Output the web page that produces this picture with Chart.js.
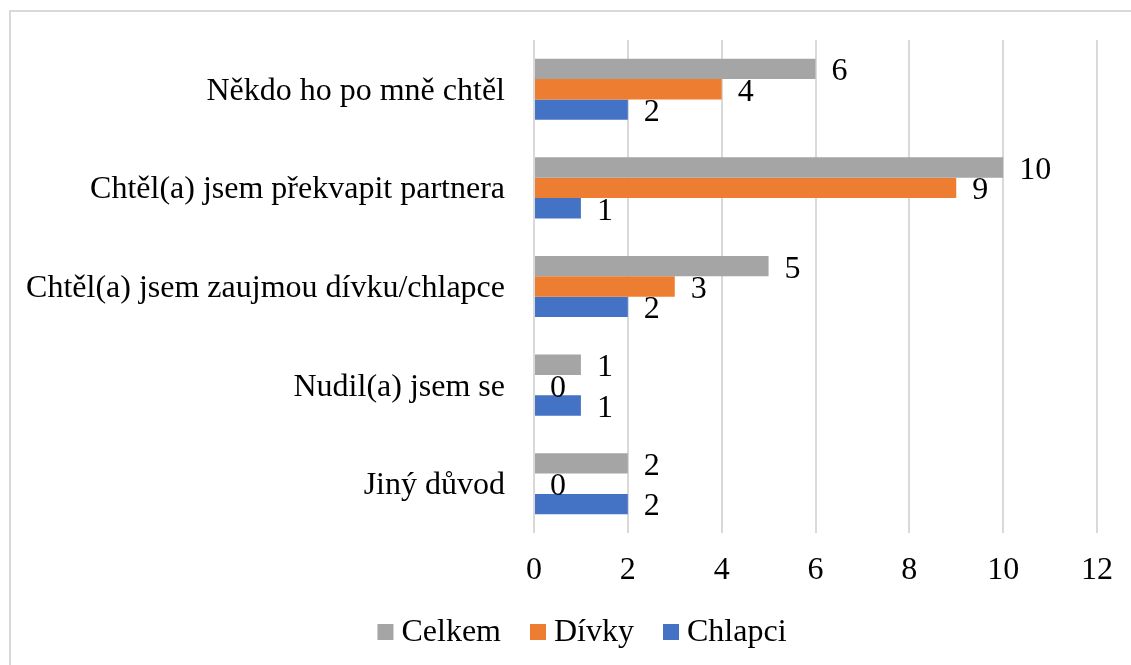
<!DOCTYPE html>
<html>
<head>
<meta charset="utf-8">
<script src="https://cdn.jsdelivr.net/npm/chart.js@4/dist/chart.umd.min.js"></script>
<style>
  html, body { margin: 0; padding: 0; background: #fff; }
  #wrap { width: 1131px; height: 665px; position: relative; }
</style>
</head>
<body>
<div id="wrap"><canvas id="c" width="1131" height="665"></canvas></div>
<script>
const categories = [
  "Někdo ho po mně chtěl",
  "Chtěl(a) jsem překvapit partnera",
  "Chtěl(a) jsem zaujmou dívku/chlapce",
  "Nudil(a) jsem se",
  "Jiný důvod"
];
const celkem = [6, 10, 5, 1, 2];
const divky = [4, 9, 3, 0, 0];
const chlapci = [2, 1, 2, 1, 2];
const seriesNames = ["Celkem", "Dívky", "Chlapci"];
const xTicks = [0, 2, 4, 6, 8, 10, 12];

const FONT = "'Liberation Serif', 'Times New Roman', serif";
const FS = 32;

const frame = {
  id: 'frame',
  beforeDraw(chart) {
    const ctx = chart.ctx;
    ctx.save();
    ctx.fillStyle = '#fff';
    ctx.fillRect(0, 0, chart.width, chart.height);
    ctx.strokeStyle = '#d9d9d9';
    ctx.lineWidth = 2;
    ctx.strokeRect(10, 11, 1140, 700);
    ctx.restore();
  }
};

// Legend drawn from the datasets (labels + colours), Office-style spacing
const customLegend = {
  id: 'customLegend',
  afterDraw(chart) {
    const ctx = chart.ctx;
    const box = 16, gapText = 8, gapItem = 29;
    const cx = 582, cy = 632;
    ctx.save();
    ctx.font = FS + 'px ' + FONT;
    const items = chart.data.datasets.map(ds => ({
      text: ds.label, color: ds.backgroundColor, w: ctx.measureText(ds.label).width
    }));
    let total = items.reduce((s, it) => s + box + gapText + it.w, 0) + gapItem * (items.length - 1);
    let x = cx - total / 2;
    ctx.textBaseline = 'middle';
    ctx.textAlign = 'left';
    items.forEach(it => {
      ctx.fillStyle = it.color;
      ctx.fillRect(x, cy - box / 2, box, box);
      ctx.fillStyle = '#000';
      ctx.fillText(it.text, x + box + gapText, cy + 1);
      x += box + gapText + it.w + gapItem;
    });
    ctx.restore();
  }
};

const valueLabels = {
  id: 'valueLabels',
  afterDatasetsDraw(chart) {
    const ctx = chart.ctx;
    ctx.save();
    ctx.font = FS + 'px ' + FONT;
    ctx.fillStyle = '#000';
    ctx.textAlign = 'left';
    ctx.textBaseline = 'middle';
    chart.data.datasets.forEach((ds, i) => {
      const meta = chart.getDatasetMeta(i);
      meta.data.forEach((bar, j) => {
        ctx.fillText(String(ds.data[j]), bar.x + 16, bar.y + 3);
      });
    });
    ctx.restore();
  }
};

new Chart(document.getElementById('c'), {
  type: 'bar',
  data: {
    labels: categories,
    datasets: [
      { label: seriesNames[0], data: celkem, backgroundColor: '#A5A5A5' },
      { label: seriesNames[1], data: divky, backgroundColor: '#ED7D31' },
      { label: seriesNames[2], data: chlapci, backgroundColor: '#4472C4' }
    ]
  },
  options: {
    indexAxis: 'y',
    responsive: false,
    animation: false,
    devicePixelRatio: 1,
    datasets: { bar: { categoryPercentage: 0.62, barPercentage: 1.0 } },
    layout: { padding: { top: 40, left: 10, right: 17, bottom: 64 } },
    scales: {
      x: {
        min: 0, max: 12,
        afterBuildTicks(scale) { scale.ticks = xTicks.map(v => ({ value: v })); },
        afterFit(scale) { scale.height = 68; },
        grid: { color: '#d9d9d9', lineWidth: 2, drawTicks: false },
        border: { display: false },
        ticks: { color: '#000', font: { family: FONT, size: FS }, padding: 18, maxRotation: 0 }
      },
      y: {
        afterFit(scale) { scale.width = 524; scale.paddingTop = 0; scale.paddingBottom = 0; },
        grid: { display: false, drawTicks: false },
        border: { display: false },
        ticks: { color: '#000', font: { family: FONT, size: FS }, padding: 29, labelOffset: 2 }
      }
    },
    plugins: {
      legend: { display: false },
      tooltip: { enabled: false }
    }
  },
  plugins: [frame, valueLabels, customLegend]
});
</script>
</body>
</html>
